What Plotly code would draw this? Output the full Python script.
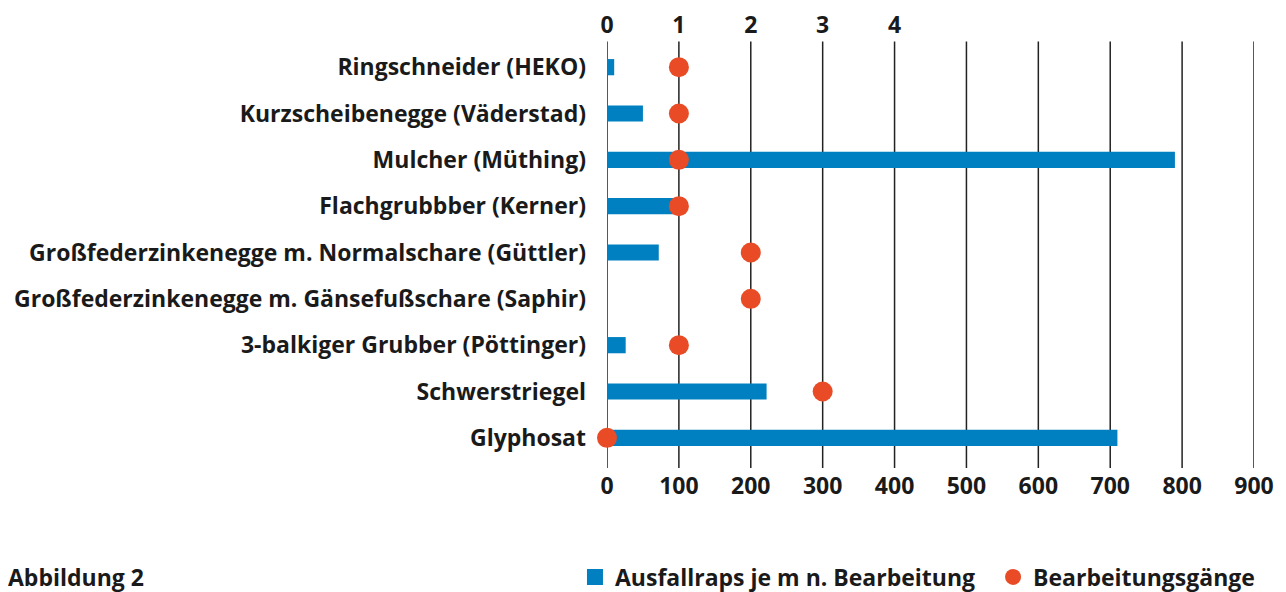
import plotly.graph_objects as go

categories = [
    "Ringschneider (HEKO)",
    "Kurzscheibenegge (Väderstad)",
    "Mulcher (Müthing)",
    "Flachgrubbber (Kerner)",
    "Großfederzinkenegge m. Normalschare (Güttler)",
    "Großfederzinkenegge m. Gänsefußschare (Saphir)",
    "3-balkiger Grubber (Pöttinger)",
    "Schwerstriegel",
    "Glyphosat",
]
ausfallraps = [10, 50, 790, 100, 72, 0, 26, 222, 710]
bearbeitungsgaenge = [1, 1, 1, 1, 2, 2, 1, 3, 0]
bottom_ticks = [0, 100, 200, 300, 400, 500, 600, 700, 800, 900]
top_ticks = [0, 1, 2, 3, 4]

BLUE = "#0080C0"
RED = "#E84B25"
FONT = "Open Sans"
TXT = "#1a1a1a"
FS = 23


def f(size=FS):
    return dict(family=FONT, size=size, color=TXT, weight=700)


fig = go.Figure()
fig.add_trace(go.Bar(
    y=categories, x=ausfallraps, orientation="h",
    marker=dict(color=BLUE, line=dict(width=0)),
    width=0.35, name="Ausfallraps je m n. Bearbeitung",
    xaxis="x", yaxis="y", showlegend=False,
))
fig.add_trace(go.Scatter(
    y=[None], x=[None], mode="markers",
    marker=dict(color=BLUE, size=18, symbol="square", line=dict(width=0)),
    name="Ausfallraps je m n. Bearbeitung", xaxis="x", yaxis="y", legend="legend",
))
fig.add_trace(go.Scatter(
    y=categories, x=bearbeitungsgaenge, mode="markers", cliponaxis=False,
    marker=dict(color=RED, size=20, line=dict(width=0)),
    name="Bearbeitungsgänge", xaxis="x2", yaxis="y", legend="legend2",
))

# vertical grid lines (slightly extending beyond plot area like the reference)
for t in bottom_ticks:
    fig.add_shape(type="line", xref="x", yref="paper", x0=t, x1=t, y0=-0.017, y1=1.006,
                  line=dict(color="#222222", width=1.5), layer="below")

fig.update_layout(
    width=1278, height=584,
    paper_bgcolor="white", plot_bgcolor="white",
    margin=dict(l=599, r=32, t=36, b=131, autoexpand=False),
    font=f(),
    showlegend=True,
    legend=dict(orientation="h", x=-0.0495, xanchor="left", y=-0.278, yanchor="middle",
                font=f(), itemwidth=30, bgcolor="rgba(0,0,0,0)"),
    legend2=dict(orientation="h", x=0.5967, xanchor="left", y=-0.278, yanchor="middle",
                 font=f(), itemwidth=30, bgcolor="rgba(0,0,0,0)"),
    xaxis=dict(range=[0, 900], tickvals=bottom_ticks, showgrid=False, automargin=False,
               zeroline=False, showline=False, ticks="", ticklabelstandoff=9,
               tickfont=f()),
    xaxis2=dict(range=[0, 9], tickvals=top_ticks, overlaying="x", side="top", automargin=False,
                showgrid=False, zeroline=False, showline=False, ticks="", ticklabelstandoff=5,
                tickfont=f()),
    yaxis=dict(categoryorder="array", categoryarray=categories, range=[8.5, -0.5],
               showgrid=False, zeroline=False, showline=False, ticks="", automargin=False,
               ticklabelstandoff=20, tickfont=f()),
    bargap=0.65,
)
fig.add_annotation(text="Abbildung 2", xref="paper", yref="paper",
                   x=-601/647, y=-0.278, xanchor="left", yanchor="middle",
                   showarrow=False, font=f())

fig.write_html("out.html")
